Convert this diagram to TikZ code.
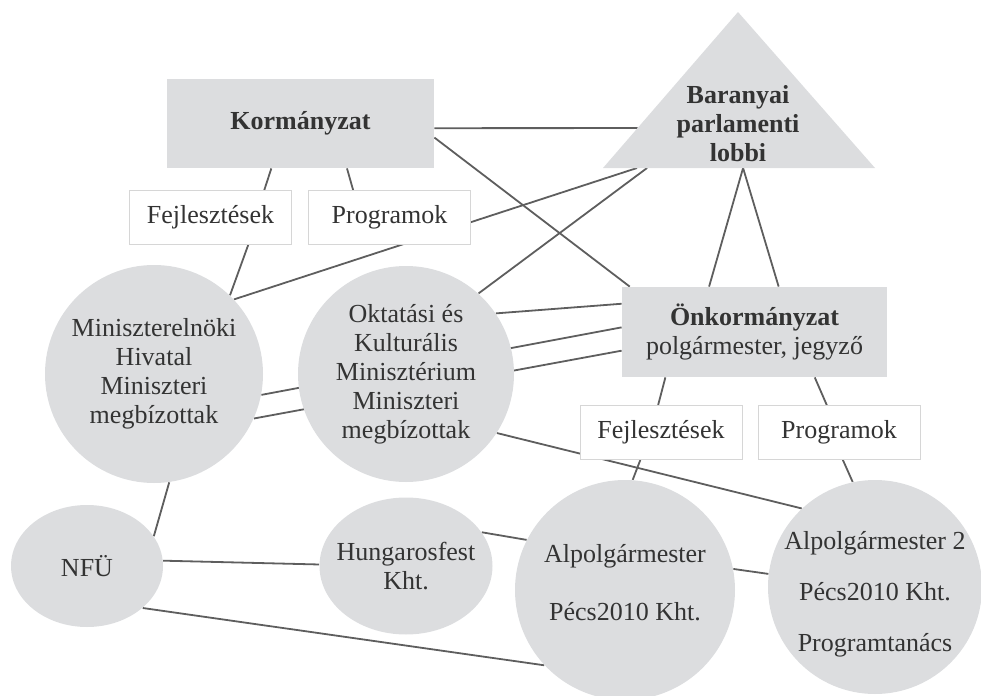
\documentclass[tikz,border=0pt]{standalone}
\usepackage{fontspec}
\setmainfont{Liberation Serif}
\usetikzlibrary{positioning, calc, shapes.geometric, backgrounds}
\definecolor{diagray}{HTML}{DCDDDF}
\definecolor{diatext}{HTML}{333333}
\definecolor{linegray}{HTML}{5E5E5E}
\definecolor{tagline}{HTML}{D6D6D6}

\begin{document}
\begin{tikzpicture}[
  x=0.5pt, y=-0.5pt,
  every node/.style={font=\fontsize{13}{14.5}\selectfont, text=diatext, align=center, inner sep=0pt},
  head/.style  = {rectangle, fill=diagray, minimum width=133.5pt, minimum height=44.5pt},
  tag/.style   = {rectangle, draw=tagline, fill=white, minimum width=81pt, minimum height=27pt},
  blob/.style  = {circle, fill=diagray, minimum size=#1},
  oval/.style 2 args = {ellipse, fill=diagray, minimum width=#1, minimum height=#2},
  link/.style  = {draw=linegray, line width=0.9pt},
]
  \useasboundingbox (0,0) rectangle (981,696);

  % top level: government, lobby triangle, local government
  \node[head] (kor) at (300.5,123.5) {\bfseries Korm\'anyzat};
  \node[tag]  (fejA)  at (210.5,217.5) {Fejleszt\'esek};
  \node[tag]  (progA) at (389.5,217.5) {Programok};

  \coordinate (triA) at (738,12);
  \coordinate (triL) at (603,168);
  \coordinate (triR) at (875,168);
  \fill[diagray] (triA) -- (triL) -- (triR) -- cycle;
  \node[font=\fontsize{13}{14.5}\selectfont\bfseries] (lobbi) at (738,124) {Baranyai\\parlamenti\\lobbi};
  \coordinate (lobL) at ($(triL)!0.256!(triA)$);
  \coordinate (lobM) at ($(triL)!0.125!(triR)$);
  \coordinate (lobN) at ($(triL)!0.162!(triR)$);
  \coordinate (lobB) at ($(triL)!0.515!(triR)$);

  \node[head, minimum width=132.5pt, minimum height=45pt] (onk) at (754.5,332)
       {{\bfseries \"Onkorm\'anyzat}\\polg\'armester, jegyz\H{o}};
  \node[tag] (fejB)  at (661,432.5) {Fejleszt\'esek};
  \node[tag] (progB) at (839,432.5) {Programok};

  % ministries and offices
  \node[blob=109pt] (minhiv) at (154,374) {Miniszterelnöki\\Hivatal\\Miniszteri\\megbízottak};
  \node[blob=108pt] (okt) at (406,374) {Oktatási és\\Kulturális\\Minisztérium\\Miniszteri\\megbízottak};
  \node[oval={76pt}{61pt}] (nfu) at (87,566) {};
  \node (nfutx) at (nfu) {NFÜ};
  \node[oval={86.5pt}{68.5pt}] (hung) at (406,566) {};
  \node (hungtx) at (hung) {Hungarosfest\\Kht.};
  \node[blob=110pt] (alp) at (625,590) {};
  \node (alptx) at (625,583) {Alpolgármester\\[14.5pt]Pécs2010 Kht.};
  \node[blob=107pt] (alp2) at (875,587) {};
  \node (alp2tx) at (875,594) {Alpolgármester 2\\[11pt]Pécs2010 Kht.\\[11pt]Programtanács};

  \begin{scope}[on background layer]
    \foreach \a/\b in {kor.-2/lobL, kor.-6/onk.160, kor.237/fejA.27, kor.-44/progA.143,
        fejA.-36/minhiv.46, lobM/minhiv.43, lobN/okt.48, lobB/onk.135, lobB/onk.62,
        okt.34/onk.168, minhiv.-11/onk.178, minhiv.-24/onk.188,
        okt.-33/alp2.133, onk.207/fejB.96, onk.-37/progB.114,
        fejB.233/alp.86, progB.-82/alp2.102, minhiv.-82/nfu.24,
        nfu.4/hung.179, nfu.-37/alp.223, hung.24/alp.153, alp.11/alp2.173}
      \draw[link] (\a) -- (\b);
  \end{scope}
\end{tikzpicture}
\end{document}
